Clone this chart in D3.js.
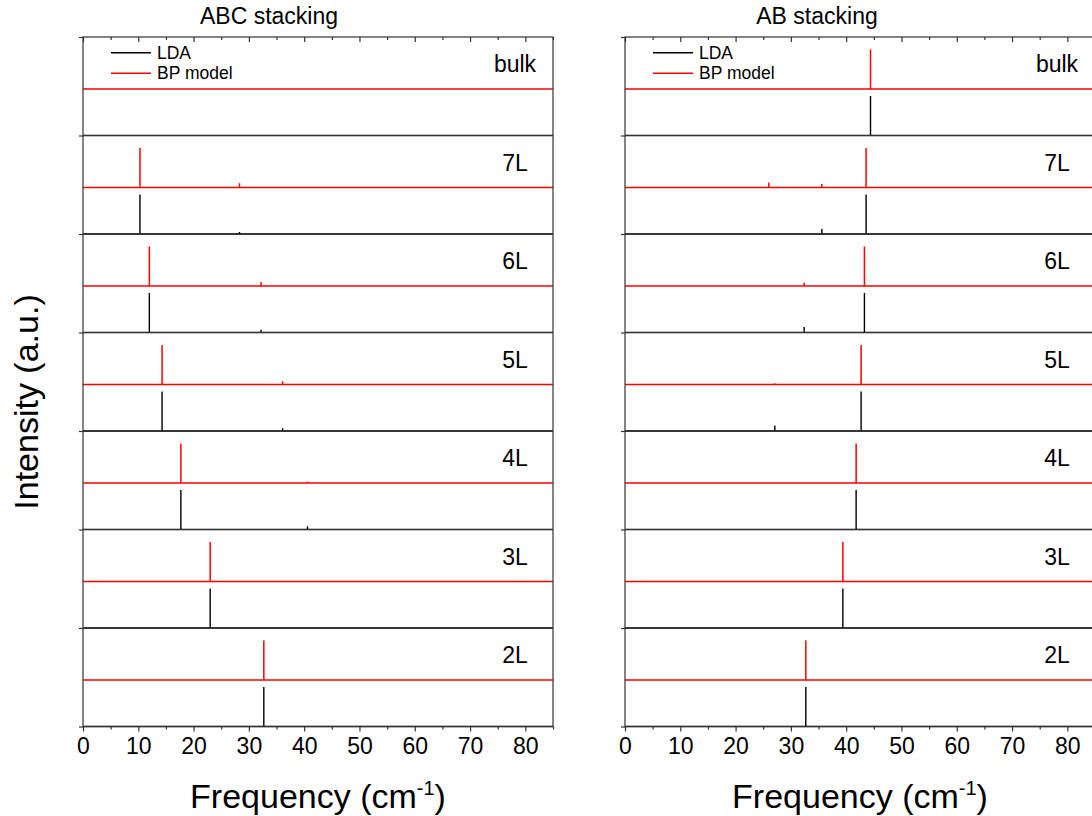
<!DOCTYPE html>
<html>
<head>
<meta charset="utf-8">
<script src="https://cdn.jsdelivr.net/npm/d3@7"></script>
<style>
body { margin: 0; background: #fff; }
text { font-family: Arial, "Liberation Sans", sans-serif; fill: #000; }
</style>
</head>
<body>
<div class="chart"></div>
<script>
// Layer labels, top row first
var layers = ["bulk", "7L", "6L", "5L", "4L", "3L", "2L"];

// Peaks as [frequency (cm-1), relative intensity], one list per layer
var abcLda = [
    [],
    [[10.3, 1], [17.4, 0.015], [28.3, 0.05], [39.3, 0.015]],
    [[12.0, 1], [32.2, 0.07], [42.4, 0.015]],
    [[14.3, 1], [36.1, 0.07]],
    [[17.7, 1], [40.6, 0.08]],
    [[23.0, 1]],
    [[32.7, 1]]
];
var abcBp = [
    [],
    [[10.3, 1], [17.4, 0.02], [28.3, 0.11], [39.3, 0.02]],
    [[12.0, 1], [32.2, 0.1], [42.4, 0.02]],
    [[14.3, 1], [36.1, 0.08]],
    [[17.7, 1], [40.6, 0.04]],
    [[23.0, 1]],
    [[32.7, 1]]
];
var abLda = [
    [[44.4, 1]],
    [[20.0, 0.01], [35.6, 0.13], [43.6, 1]],
    [[32.4, 0.14], [43.3, 1]],
    [[27.1, 0.14], [42.7, 1]],
    [[18.1, 0.02], [41.8, 1]],
    [[39.4, 1]],
    [[32.7, 1]]
];
var abBp = [
    [[44.4, 1]],
    [[26.0, 0.12], [35.6, 0.09], [43.6, 1]],
    [[32.4, 0.08], [43.3, 1]],
    [[27.1, 0.03], [42.7, 1]],
    [[18.1, 0.02], [41.8, 1]],
    [[39.4, 1]],
    [[32.7, 1]]
];

var xMajorTicks = [0, 10, 20, 30, 40, 50, 60, 70, 80];
var xMinorTicks = [5, 15, 25, 35, 45, 55, 65, 75, 85];
var xDomain = [0, 85];

var legendNames = ["LDA", "BP model"];
var seriesColors = ["#000000", "#ff0000"];

// Set up chart
var svgWidth = 1092;
var svgHeight = 816;

var plotTop = 37;
var plotBottom = 726.5;
var plotWidth = 470;

// Red spectrum sits this far above the black one, peak height per unit intensity (in row units)
var redOffset = 0.472;
var peakScale = 0.4;

var panels = [
    {title: "ABC stacking", left: 83, titleX: 269, lda: abcLda, bp: abcBp},
    {title: "AB stacking", left: 625, titleX: 817, lda: abLda, bp: abBp}
];

var svg = d3
    .select(".chart")
    .append("svg")
    .attr("width", svgWidth)
    .attr("height", svgHeight);

var yLinearScale = d3.scaleLinear()
    .domain([0, layers.length])
    .range([plotBottom, plotTop]);

// Spectrum as a path: baseline with vertical sticks
function spectrumPath(peaks, offset, xScale) {
    var pts = [[xDomain[0], offset]];
    peaks.slice().sort(function(a, b) { return a[0] - b[0]; }).forEach(function(p) {
        pts.push([p[0], offset]);
        pts.push([p[0], offset + p[1] * peakScale]);
        pts.push([p[0], offset]);
    });
    pts.push([xDomain[1], offset]);
    return d3.line()
        .x(function(d) { return xScale(d[0]); })
        .y(function(d) { return yLinearScale(d[1]); })(pts);
}

panels.forEach(function(panel) {
    var xLinearScale = d3.scaleLinear()
        .domain(xDomain)
        .range([panel.left, panel.left + plotWidth]);

    var chart = svg.append("g");

    // Spectra
    layers.forEach(function(name, i) {
        var base = layers.length - 1 - i;
        chart.append("path")
            .attr("d", spectrumPath(panel.bp[i], base + redOffset, xLinearScale))
            .attr("fill", "none")
            .attr("stroke", seriesColors[1])
            .attr("stroke-width", 1.5);
        chart.append("path")
            .attr("d", spectrumPath(panel.lda[i], base, xLinearScale))
            .attr("fill", "none")
            .attr("stroke", seriesColors[0])
            .attr("stroke-width", 1.4);

        chart.append("text")
            .attr("x", panel.left + 432)
            .attr("y", yLinearScale(base + 1) + 27)
            .attr("dy", "0.35em")
            .attr("text-anchor", "middle")
            .style("font-size", "23px")
            .text(name);
    });

    // Row separators
    chart.selectAll(".sep")
        .data(d3.range(1, layers.length))
        .enter()
        .append("line")
        .attr("x1", panel.left)
        .attr("x2", panel.left + plotWidth)
        .attr("y1", function(d) { return yLinearScale(d); })
        .attr("y2", function(d) { return yLinearScale(d); })
        .attr("stroke", "#333")
        .attr("stroke-width", 1.2);

    // Frame
    chart.append("rect")
        .attr("x", panel.left)
        .attr("y", plotTop)
        .attr("width", plotWidth)
        .attr("height", plotBottom - plotTop)
        .attr("fill", "none")
        .attr("stroke", "#333")
        .attr("stroke-width", 1.2);

    // Bottom axis, major and minor ticks
    var bottomAxis = chart.append("g")
        .attr("transform", "translate(0," + plotBottom + ")")
        .call(d3.axisBottom(xLinearScale).tickValues(xMajorTicks).tickSize(5).tickPadding(6));
    bottomAxis.selectAll("text").style("font-size", "23px").attr("fill", "#000");
    chart.append("g")
        .attr("transform", "translate(0," + plotBottom + ")")
        .call(d3.axisBottom(xLinearScale).tickValues(xMinorTicks).tickSize(3).tickFormat(""));

    // Top axis, ticks inside
    chart.append("g")
        .attr("transform", "translate(0," + plotTop + ")")
        .call(d3.axisTop(xLinearScale).tickValues(xMajorTicks).tickSize(-5).tickFormat(""));
    chart.append("g")
        .attr("transform", "translate(0," + plotTop + ")")
        .call(d3.axisTop(xLinearScale).tickValues(xMinorTicks).tickSize(-3).tickFormat(""));

    // Left axis ticks at row edges
    chart.append("g")
        .attr("transform", "translate(" + panel.left + ",0)")
        .call(d3.axisLeft(yLinearScale).tickValues(d3.range(0, layers.length + 1)).tickSize(4).tickFormat(""));

    chart.selectAll(".domain").remove();
    chart.selectAll(".tick line").attr("stroke", "#333").attr("stroke-width", 1.2);

    // Legend
    legendNames.forEach(function(name, k) {
        var ly = 52.7 + k * 20.6;
        chart.append("line")
            .attr("x1", panel.left + 28)
            .attr("x2", panel.left + 68)
            .attr("y1", ly)
            .attr("y2", ly)
            .attr("stroke", seriesColors[k])
            .attr("stroke-width", 1.4);
        chart.append("text")
            .attr("x", panel.left + 74)
            .attr("y", ly)
            .attr("dy", "0.35em")
            .style("font-size", "17.5px")
            .text(name);
    });

    // Panel title
    chart.append("text")
        .attr("x", panel.titleX)
        .attr("y", 24)
        .attr("text-anchor", "middle")
        .style("font-size", "23px")
        .text(panel.title);

    // x-axis label
    var xLabel = chart.append("text")
        .attr("x", panel.left + plotWidth / 2)
        .attr("y", 808)
        .attr("text-anchor", "middle")
        .style("font-size", "34px");
    xLabel.append("tspan").text("Frequency (cm");
    xLabel.append("tspan").attr("dy", -13).style("font-size", "20px").text("-1");
    xLabel.append("tspan").attr("dy", 13).text(")");
});

// y-axis label
svg.append("text")
    .attr("transform", "translate(38,402) rotate(-90)")
    .attr("text-anchor", "middle")
    .style("font-size", "34px")
    .text("Intensity (a.u.)");
</script>
</body>
</html>
